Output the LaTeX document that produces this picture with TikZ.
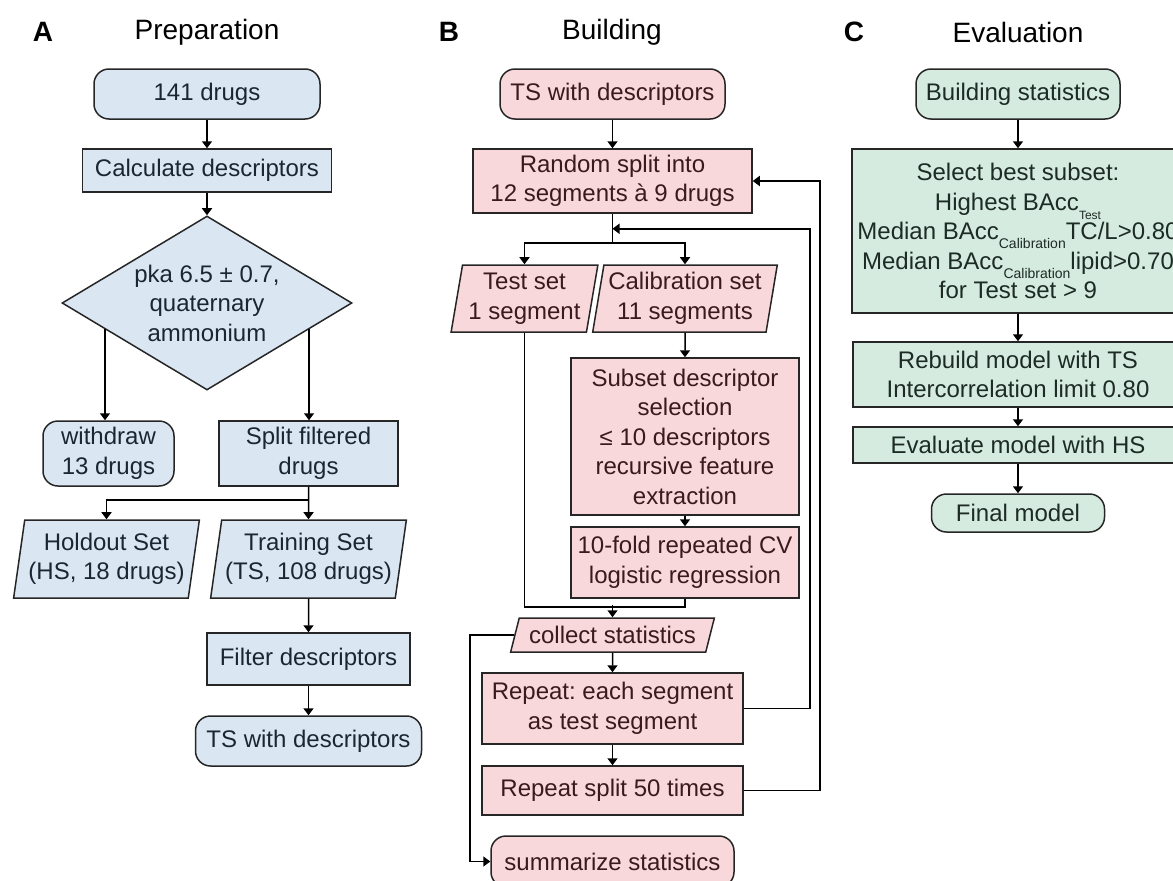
\documentclass[tikz,border=0pt]{standalone}
\usepackage{fontspec}
\setmainfont{Liberation Sans}
\usepackage{tikz}
\usetikzlibrary{calc,arrows.meta,positioning,shapes.geometric}
\definecolor{prepfill}{HTML}{DAE7F3}
\definecolor{buildfill}{HTML}{F8D8DB}
\definecolor{evalfill}{HTML}{D6EBDF}
\definecolor{preptext}{HTML}{1C2633}
\definecolor{buildtext}{HTML}{3A1A1D}
\definecolor{evaltext}{HTML}{1C2B24}
\tikzset{
  box/.style={draw=black!85,line width=1.5pt,rectangle,align=center,inner sep=2pt,
    font=\fontsize{24}{29.5}\selectfont},
  term/.style={box,rounded corners=15pt},
  io/.style={box,trapezium,trapezium left angle=79,trapezium right angle=101,
    trapezium stretches=true},
  decision/.style={box,diamond,aspect=1.67,inner sep=0pt},
  prep/.style={fill=prepfill,text=preptext},
  build/.style={fill=buildfill,text=buildtext},
  eval/.style={fill=evalfill,text=evaltext},
  title/.style={font=\fontsize{28}{28}\selectfont},
  letter/.style={font=\fontsize{28}{28}\selectfont\bfseries}
}
\tikzstyle{arrow} = [line width=1.5pt,-{Triangle[width=10pt,length=7pt]}]
\tikzstyle{line} = [line width=1.5pt]
\newcommand{\lowsub}[2][14]{\raisebox{-9pt}{\fontsize{#1}{#1}\selectfont #2}}
\frenchspacing

\begin{document}
\begin{tikzpicture}[x=1pt,y=-1pt]
\useasboundingbox (0,0) rectangle (1173,881);
\clip (0,0) rectangle (1173,881);
\node[letter] (la) at (43,32) {A}; \node[title] (tprep) at (207,32) {Preparation};
\node[letter] (lb) at (449,32) {B}; \node[title] (tbuild) at (612,32) {Building};
\node[letter] (lc) at (854,32) {C}; \node[title] (teval) at (1018,32) {Evaluation};

\node[term,prep,minimum width=226pt,minimum height=50pt] (drugs) at (207,94) {141 drugs};
\node[box,prep,minimum width=249pt,minimum height=43pt] (calc) at (207,170.5) {Calculate descriptors};
\node[decision,prep,minimum width=290pt,minimum height=174pt] (filter) at (207,303) {pka 6.5 ± 0.7,\\quaternary\\ammonium};
\node[term,prep,minimum width=131pt,minimum height=65pt] (withdraw) at (108.5,453.5) {withdraw\\13 drugs};
\node[box,prep,minimum width=179pt,minimum height=65pt] (split) at (308.5,453.5) {Split filtered\\drugs};
\node[io,prep,minimum width=186pt,minimum height=78pt] (hs) at (106.5,559) {Holdout Set\\(HS, 18 drugs)};
\node[io,prep,minimum width=196pt,minimum height=78pt] (ts) at (308.5,559) {Training Set\\(TS, 108 drugs)};
\node[box,prep,minimum width=203pt,minimum height=52pt] (filt) at (308.5,659) {Filter descriptors};
\node[term,prep,minimum width=226pt,minimum height=50pt] (tsdesc) at (308.5,741) {TS with descriptors};
\coordinate (fl) at ($(filter.west)!0.3!(filter.south)$);
\coordinate (fr) at ($(filter.east)!0.3!(filter.south)$);
\draw[arrow] (drugs) -- (calc);
\draw[arrow] (calc) -- (filter);
\draw[arrow] (fl) -- (fl |- withdraw.north);
\draw[arrow] (fr) -- (fr |- split.north);
\draw[arrow] (split) -- (ts);
\draw[arrow] (split.south) -- ++(0,13) -| (hs.north);
\draw[arrow] (ts) -- (filt);
\draw[arrow] (filt) -- (tsdesc);

\node[term,build,minimum width=225pt,minimum height=50pt] (tsin) at (612.5,94) {TS with descriptors};
\node[box,build,minimum width=279pt,minimum height=64pt] (rand) at (612.5,181) {Random split into\\12 segments à 9 drugs};
\node[io,build,minimum width=147pt,minimum height=67pt] (test) at (524.5,298.5) {Test set\\1 segment};
\node[io,build,minimum width=185pt,minimum height=67pt] (cal) at (685,298.5) {Calibration set\\11 segments};
\node[box,build,minimum width=228pt,minimum height=157pt] (subset) at (685,436.5) {Subset descriptor\\selection\\≤ 10 descriptors\\recursive feature\\extraction};
\node[box,build,minimum width=228pt,minimum height=71pt] (cv) at (685,562.5) {10-fold repeated CV\\logistic regression};
\node[io,build,trapezium left angle=70,trapezium right angle=110,minimum width=204pt,minimum height=34pt] (collect) at (612.5,635) {collect statistics};
\node[box,build,minimum width=261pt,minimum height=71pt] (repseg) at (612.5,708.5) {Repeat: each segment\\as test segment};
\node[box,build,minimum width=261pt,minimum height=49pt] (repsplit) at (612.5,790.5) {Repeat split 50 times};
\node[term,build,minimum width=243pt,minimum height=51pt] (summary) at (612.5,861.5) {summarize statistics};
\coordinate (junction) at ($(rand.south)+(0,15)$);
\draw[arrow] (tsin) -- (rand);
\draw[line] (rand.south) -- ++(0,29) coordinate (fork);
\draw[arrow] (fork) -| (test.north);
\draw[arrow] (fork) -| (cal.north);
\draw[arrow] (cal) -- (subset);
\draw[arrow] (subset) -- (cv);
\draw[line] (test.south) -- ++(0,274) -| (cv.south);
\draw[arrow] ($(collect.north)+(0,-12)$) -- (collect.north);
\draw[arrow] (collect) -- (repseg);
\draw[arrow] (repseg) -- (repsplit);
\draw[arrow] (repseg.east) -- ++(66,0) |- (junction);
\draw[arrow] (repsplit.east) -- ++(76,0) |- (rand.east);
\draw[arrow] (collect.left side) -- ++(-44,0) |- (summary.west);

\node[term,eval,minimum width=204pt,minimum height=50pt] (stats) at (1018,94) {Building statistics};
\node[box,eval,minimum width=332pt,minimum height=164pt] (best) at (1018,231) {Select best subset:\\Highest BAcc\lowsub[12]{Test}\\Median BAcc\lowsub{Calibration}TC/L>0.80\\Median BAcc\lowsub{Calibration}lipid>0.70\\for Test set > 9};
\node[box,eval,minimum width=330pt,minimum height=65pt] (rebuild) at (1018,374.5) {Rebuild model with TS\\Intercorrelation limit 0.80};
\node[box,eval,minimum width=330pt,minimum height=36pt] (evalhs) at (1018,445) {Evaluate model with HS};
\node[term,eval,minimum width=173pt,minimum height=38pt] (final) at (1018,513) {Final model};
\draw[arrow] (stats) -- (best);
\draw[arrow] (best) -- (rebuild);
\draw[arrow] (rebuild) -- (evalhs);
\draw[arrow] (evalhs) -- (final);
\end{tikzpicture}
\end{document}
